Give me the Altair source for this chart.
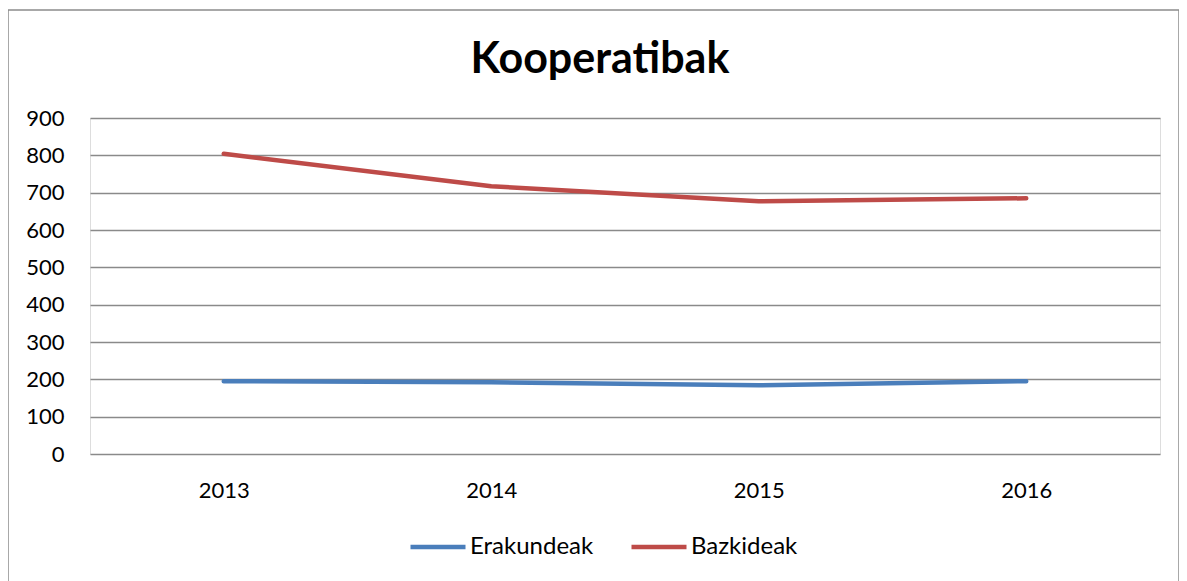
import altair as alt
import pandas as pd

chart_title = "Kooperatibak"
years = ["2013", "2014", "2015", "2016"]
erakundeak = [195, 192, 184, 195]
bazkideak = [804, 717, 677, 685]
series_names = ["Erakundeak", "Bazkideak"]
series_colors = ["#4A7EBB", "#BE4B48"]
y_ticks = [0, 100, 200, 300, 400, 500, 600, 700, 800, 900]

rows = []
for name, vals in zip(series_names, [erakundeak, bazkideak]):
    for yr, v in zip(years, vals):
        rows.append({"Urtea": yr, "Balioa": v, "Saila": name})
df = pd.DataFrame(rows)

FONT = "Lato"
GRID = "#8A8A8A"

lines = alt.Chart(df).mark_line(strokeWidth=4.5, strokeCap="round", strokeJoin="round").encode(
    x=alt.X("Urtea:N", sort=years, title=None,
            scale=alt.Scale(type="point", padding=0.5),
            axis=alt.Axis(labelAngle=0, ticks=False, domain=False, grid=False,
                          labelFontSize=22, labelColor="#000000", labelFont=FONT,
                          labelPadding=26)),
    y=alt.Y("Balioa:Q", title=None,
            scale=alt.Scale(domain=[0, 900], nice=False),
            axis=alt.Axis(values=y_ticks, ticks=False, domain=False, grid=True,
                          gridColor=GRID, gridWidth=1.4,
                          labelFontSize=22, labelColor="#000000", labelFont=FONT,
                          labelPadding=26)),
    color=alt.Color("Saila:N", sort=series_names,
                    scale=alt.Scale(domain=series_names, range=series_colors),
                    legend=alt.Legend(title=None, orient="none", direction="horizontal",
                                      legendX=318, legendY=399,
                                      symbolType="stroke", symbolSize=3025,
                                      symbolStrokeWidth=4.5,
                                      labelFontSize=24, labelFont=FONT, labelColor="#000000",
                                      labelOffset=2, columnPadding=28)),
)

single = pd.DataFrame({"t": [chart_title]})

frame = alt.Chart(single).mark_rect(
    filled=False, stroke="#8C8C8C", strokeWidth=1.5
).encode(
    x=alt.value(-82), x2=alt.value(1089), y=alt.value(-108), y2=alt.value(600)
)

title = alt.Chart(single).mark_text(
    font=FONT, fontSize=43, fontWeight="bold", color="#000000",
    align="center", baseline="alphabetic"
).encode(
    text="t:N", x=alt.value(510), y=alt.value(-45)
)

chart = alt.layer(frame, title, lines).properties(
    width=1070, height=336,
    padding={"left": 82, "top": 110, "right": 19, "bottom": 130},
    autosize=alt.AutoSizeParams(type="none"),
).configure_view(stroke=None).configure(background="#FFFFFF")

chart.save("out.html", embed_options={"renderer": "svg", "actions": False})
